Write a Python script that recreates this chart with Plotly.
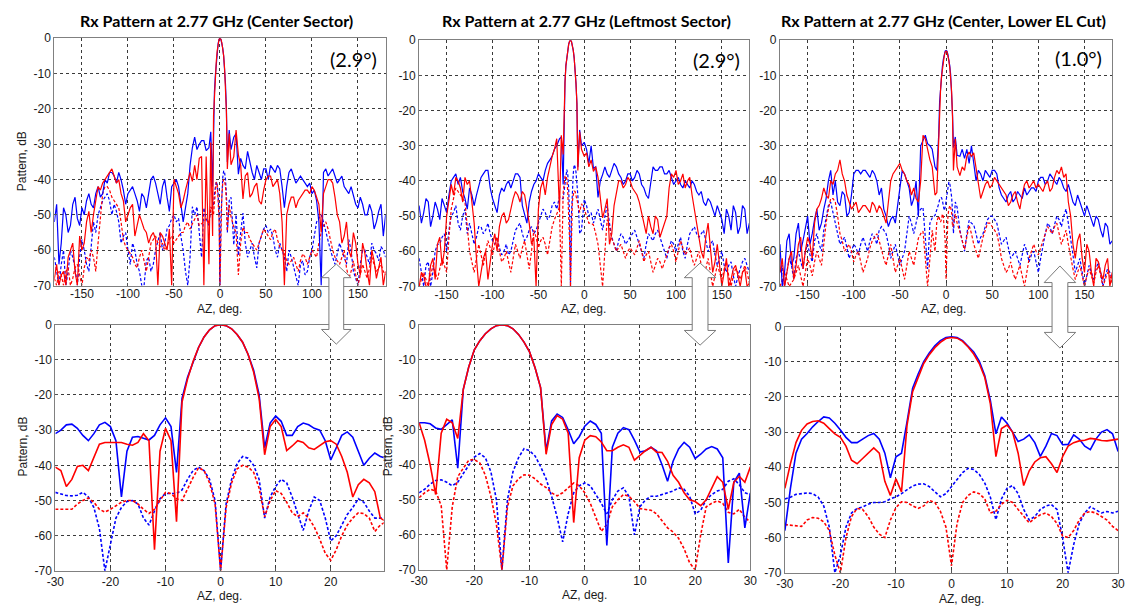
import plotly.graph_objects as go

W, H = 1132, 614

# ---------------- data ----------------
AZ_TOP = [-180, -175, -170, -165, -160, -155, -150, -145, -140, -135, -130, -125, -120, -115, -110, -105, -100, -95,
          -90, -85, -80, -75, -70, -65, -60, -55, -50, -45, -40, -35, -30, -25, -20, -15,
          -12, -10, -8, -7, -6, -5, -4, -3, -2, -1, 0, 1, 2, 3, 4, 5, 6, 7, 8, 10, 12,
          15, 20, 25, 30, 35, 40, 45, 50, 55, 60, 65, 70, 75, 80, 85, 90, 95, 100, 105, 110, 115, 120, 125, 130,
          135, 140, 145, 150, 155, 160, 165, 170, 175, 180]
AZ_MID = [-177.5, -172.5, -167.5, -162.5, -157.5, -152.5, -147.5, -142.5, -137.5, -132.5, -127.5, -122.5, -117.5,
          -112.5, -107.5, -102.5, -97.5, -92.5, -87.5, -82.5, -77.5, -72.5, -67.5, -62.5, -57.5, -52.5, -47.5, -42.5,
          -37.5, -32.5, -27.5, -22.5, -17.5,
          17.5, 22.5, 27.5, 32.5, 37.5, 42.5, 47.5, 52.5, 57.5, 62.5, 67.5, 72.5, 77.5, 82.5, 87.5, 92.5, 97.5, 102.5,
          107.5, 112.5, 117.5, 122.5, 127.5, 132.5, 137.5, 142.5, 147.5, 152.5, 157.5, 162.5, 167.5, 172.5, 177.5]

AZ_TOP_LEFT = [-180, -175, -170, -165, -160, -155, -150, -145, -140, -135, -130, -125, -120, -115, -110, -105, -100,
               -95, -90, -85, -80, -75, -70, -65, -60, -55, -50, -45, -40, -35, -30,
               -27, -25, -23, -22, -21, -20, -19, -18, -17, -16, -15, -14, -13, -12, -11, -10, -9, -8, -7, -5, -3,
               0, 5, 10, 15, 20, 25, 30, 35, 40, 45, 50, 55, 60, 65, 70, 75, 80, 85, 90, 95, 100, 105, 110, 115, 120,
               125, 130, 135, 140, 145, 150, 155, 160, 165, 170, 175, 180]
AZ_MID_LEFT = [-177.5, -172.5, -167.5, -162.5, -157.5, -152.5, -147.5, -142.5, -137.5, -132.5, -127.5, -122.5,
               -117.5, -112.5, -107.5, -102.5, -97.5, -92.5, -87.5, -82.5, -77.5, -72.5, -67.5, -62.5, -57.5, -52.5,
               -47.5, -42.5, -37.5, -32.5,
               2.5, 7.5, 12.5, 17.5, 22.5, 27.5, 32.5, 37.5, 42.5, 47.5, 52.5, 57.5, 62.5, 67.5, 72.5, 77.5, 82.5,
               87.5, 92.5, 97.5, 102.5, 107.5, 112.5, 117.5, 122.5, 127.5, 132.5, 137.5, 142.5, 147.5, 152.5, 157.5,
               162.5, 167.5, 172.5, 177.5]

AZ_ZOOM = [-30, -29, -28, -27, -26, -25, -24, -23, -22, -21, -20, -19, -18, -17, -16, -15, -14, -13, -12, -11, -10,
           -9, -8, -7, -6, -5, -4, -3, -2, -1, 0, 1, 2, 3, 4, 5, 6, 7, 8, 9, 10, 11, 12, 13, 14, 15, 16, 17, 18, 19,
           20, 21, 22, 23, 24, 25, 26, 27, 28, 29, 30]

# Panel 1 (Center Sector), full cut
C_SOLID_BLUE = [-52, -64, -48, -55, -47, -51, -48, -46, -47, -44, -45, -40, -38, -39, -38, -43, -44, -42, -46, -44,
                -48, -40, -41, -47, -40, -49, -41, -42, -52, -44, -31, -31.5, -29, -31.8,
                -31, -26.5, -42, -21, -15, -10.5, -6.5, -3.5, -1.5, -0.3, 0, -0.3, -1.2, -2.8, -5, -8.5, -13, -20,
                -35, -26, -31.5,
                -28, -38.5, -36, -32, -38, -36, -40, -37, -36, -38, -37, -48, -38, -39, -40, -40, -42, -44, -46, -70,
                -37, -38, -39, -40, -42, -44, -45, -48, -47, -50, -49, -52, -47, -50]
C_SOLID_BLUE_MID = [-47, -58, -50, -53, -45, -53, -50, -44, -48, -42, -44, -41, -38, -41, -40, -47, -43, -44, -49,
                    -45, -44, -39, -44, -42, -45, -42, -40, -47, -48, -36, -28, -30, -29,
                    -27, -34, -37, -35, -40, -38, -37, -40, -37, -36, -42, -42, -37, -41, -39, -41, -41, -43, -52,
                    -38, -39, -37, -41, -39, -43, -42, -47, -45, -50, -47, -54, -49, -56]
C_SOLID_RED = [-68, -70, -66, -62, -58, -70, -60, -52, -55, -46, -43, -40, -38, -39, -40, -46, -50, -47, -53, -52,
               -55, -56, -57, -55, -58, -54, -40, -44, -46, -40, -40.5, -40, -33.5, -33.5,
               -64, -29.5, -56, -22, -15.5, -10.5, -6.5, -3.5, -1.5, -0.3, 0, -0.3, -1.2, -2.8, -5, -8.5, -13.5, -21,
               -37, -27, -35.8,
               -33.5, -33, -45.5, -38, -44, -41, -47, -40, -39, -41, -44, -70, -47, -45, -46, -44, -43, -42, -45, -55,
               -42, -40, -45, -52, -56, -60, -55, -64, -58, -66, -60, -68, -62, -66]
C_SOLID_RED_MID = [-64, -67, -70, -60, -66, -56, -58, -49, -50, -42, -41, -39, -37, -41, -44, -52, -48, -56, -50,
                   -54, -58, -55, -70, -56, -60, -70, -42, -48, -43, -38, -36, -34, -70,
                   -26, -36, -39, -45, -42, -46, -43, -39, -42, -40, -52, -50, -45, -48, -45, -43, -44, -43, -47,
                   -44, -40, -41, -50, -58, -52, -62, -58, -67, -61, -70, -63, -65, -70]
C_DASH_BLUE = [-62, -70, -60, -66, -62, -70, -57, -64, -58, -55, -48, -45, -46, -47, -52, -56, -60, -58, -64, -70,
               -63, -66, -60, -55, -58, -53, -50, -51, -60, -70, -47.7, -47.7, -62, -51,
               -53, -48, -48, -47, -44, -41.5, -40.5, -41.5, -44, -50, -70, -51, -44, -39.5, -37.5, -38, -40, -44,
               -55, -46, -45,
               -58.5, -61.5, -49.5, -62, -58, -65, -56, -53, -54, -60, -58, -62, -60, -65, -70, -63, -66, -60, -52,
               -50, -55, -60, -64, -58, -62, -57, -66, -70, -60, -62, -58, -61, -59, -62]
C_DASH_BLUE_MID = [-66, -64, -70, -60, -65, -62, -60, -66, -52, -50, -46, -44, -50, -49, -58, -55, -64, -60, -66,
                   -70, -62, -64, -57, -60, -54, -51, -52, -56, -66, -62, -50, -55, -48,
                   -50, -55, -58, -60, -62, -58, -54, -55, -56, -62, -60, -66, -62, -68, -64, -67, -62, -56, -51,
                   -52, -58, -62, -61, -60, -64, -60, -68, -64, -60, -64, -60, -63, -60]
C_DASH_RED = [-68, -66, -70, -65, -68, -64, -70, -62, -60, -66, -50, -42, -43, -46, -48, -57, -60, -62, -65, -60,
              -66, -58, -56, -59, -60, -57, -58, -56, -55, -52, -52.5, -50, -52.5, -51,
              -52.5, -47.7, -49.5, -50, -46.5, -43.5, -40.7, -41.5, -45, -51, -70, -52, -45, -41, -40, -40.5, -42,
              -46.5, -54.6, -47.2, -50.5,
              -53.5, -67, -53.5, -55, -58, -60, -56, -55, -57, -54, -59, -61, -64, -62, -66, -61, -64, -60, -62, -55,
              -52, -57, -62, -64, -60, -68, -63, -70, -64, -68, -62, -66, -64, -67]
C_DASH_RED_MID = [-70, -67, -66, -70, -65, -67, -65, -63, -62, -58, -44, -42, -45, -47, -52, -59, -61, -64, -62,
                  -63, -62, -57, -58, -58, -59, -56, -57, -55, -53, -54, -51, -53, -52,
                  -55, -58, -55, -57, -59, -58, -54, -56, -55, -57, -60, -63, -63, -64, -63, -62, -62, -61, -58,
                  -53, -54, -60, -63, -62, -65, -66, -67, -67, -66, -65, -64, -65, -66]

# Panel 2 (Leftmost Sector), full cut
L_SOLID_BLUE = [-47, -49, -46, -50, -48, -45, -49, -40, -38, -39, -45, -42, -47, -41, -38, -37, -45, -49, -42, -41,
                -42, -38, -39, -50, -46, -41, -38, -40, -35, -33, -30,
                -28, -27.5, -41, -18.5, -12, -7.2, -4.6, -2.6, -1.2, -0.3, 0, -0.3, -1.2, -2.8, -5, -7.8, -12.3, -18,
                -36, -25.5, -30,
                -29, -35, -36.4, -44.7, -38.2, -38, -37, -36, -39, -40, -38, -39, -38, -42, -45, -36, -37, -36, -38,
                -39, -40, -41, -40, -42, -41, -44, -46, -45, -48, -47, -51, -48, -54, -49, -53, -48, -52]
L_SOLID_BLUE_MID = [-52, -45, -53, -46, -51, -47, -44, -39, -41, -43, -48, -44, -44, -39, -37, -42, -47, -44, -43,
                    -40, -40, -38, -47, -52, -43, -40, -39, -37, -34, -31,
                    -31, -30, -36, -40, -36, -39, -35, -38, -41, -38, -40, -37, -41, -44, -40, -37, -36, -38, -37,
                    -41, -39, -42, -41, -40, -43, -43, -47, -46, -50, -49, -55, -50, -47, -55, -47, -55]
L_SOLID_RED = [-70, -67, -70, -62, -58, -64, -50, -41, -39, -42, -39, -40, -52, -70, -62, -68, -58, -60, -50, -52,
               -48, -43, -46, -44, -52, -56, -48, -40, -39, -33, -28,
               -48.5, -27, -32.5, -18.5, -12, -7.2, -4.6, -2.6, -1.2, -0.3, 0, -0.3, -1.2, -2.8, -5, -7.8, -12.3, -18,
               -37, -26, -31,
               -33, -36, -37.3, -39, -50.5, -45, -55, -44, -40, -41, -40, -43, -46, -52, -50, -55, -51, -54, -50, -38,
               -37, -40, -42, -39, -48, -55, -62, -52, -66, -58, -70, -62, -68, -64, -70, -65, -69]
L_SOLID_RED_MID = [-66, -70, -64, -68, -56, -60, -46, -44, -40, -46, -41, -46, -62, -66, -60, -63, -55, -53, -49,
                   -51, -45, -44, -43, -48, -58, -70, -42, -44, -36, -31,
                   -32, -34, -36, -44, -48, -58, -47, -40, -42, -39, -42, -44, -49, -55, -53, -50, -56, -52, -42,
                   -39, -41, -38, -40, -44, -52, -60, -56, -60, -63, -64, -66, -70, -65, -67, -66, -70]
L_DASH_BLUE = [-62, -70, -63, -66, -58, -56, -60, -50, -47, -54, -48, -52, -58, -53, -55, -52, -57, -56, -61, -58,
               -60, -54, -52, -57, -54, -55, -52, -48, -51, -47, -48,
               -44.5, -45, -45, -42.5, -40, -37.8, -36.8, -38, -42, -50, -70, -50, -42, -38, -35.4, -36, -37.5, -40.5,
               -44, -55, -54,
               -45.2, -50, -52, -48, -54, -47, -56, -60, -55, -58, -56, -54, -58, -62, -55, -57, -54, -58, -62, -57,
               -60, -56, -62, -55, -53, -56, -54, -60, -57, -64, -60, -66, -63, -70, -65, -62, -66]
L_DASH_BLUE_MID = [-66, -64, -70, -60, -58, -55, -54, -49, -52, -50, -55, -55, -56, -53, -54, -55, -58, -59, -60,
                   -61, -57, -53, -55, -56, -53, -54, -50, -49, -50, -46,
                   -47, -49, -50, -51, -50, -52, -58, -57, -56, -57, -55, -56, -60, -58, -56, -55, -56, -60, -59,
                   -58, -58, -60, -58, -54, -55, -55, -57, -58, -61, -62, -64, -64, -67, -67, -63, -64]
L_DASH_RED = [-70, -66, -70, -64, -68, -62, -66, -48, -42, -44, -46, -60, -66, -58, -64, -57, -61, -56, -63, -60,
              -66, -58, -62, -57, -65, -54, -59, -56, -61, -53, -49.4,
              -47.5, -70, -43.4, -41, -38.7, -38.5, -39.5, -43, -49, -57, -70, -52, -46, -44, -42.9, -43, -44, -45.5,
              -46.5, -48.9, -46.5,
              -48, -52, -52.5, -58, -70, -51, -56.4, -60, -58, -62, -59, -61, -57, -63, -60, -66, -62, -65, -61, -58,
              -63, -57, -61, -59, -64, -60, -68, -62, -70, -64, -68, -63, -70, -65, -68, -64, -69]
L_DASH_RED_MID = [-68, -68, -67, -66, -65, -64, -56, -45, -43, -45, -53, -63, -62, -61, -60, -59, -58, -60, -62,
                  -63, -62, -60, -59, -61, -60, -56, -57, -58, -57, -51,
                  -50, -52, -55, -64, -60, -53, -58, -59, -60, -60, -60, -59, -60, -61, -63, -64, -63, -63, -59,
                  -60, -60, -59, -60, -62, -62, -64, -65, -66, -67, -66, -65, -67, -67, -66, -66, -66]

# Panel 3 (Center, Lower EL Cut), full cut
E_SOLID_BLUE = [-58, -66, -55, -62, -52, -57, -50, -55, -48, -52, -45, -37, -40, -47, -44, -49, -38, -37, -37, -38,
                -37, -40, -42, -50, -51, -52, -41, -38, -42, -45, -50, -28.5, -29.4, -31,
                -36, -37, -27, -17.5, -13.5, -10, -7.5, -5.5, -4, -3.1, -2.9, -3.1, -4, -5.5, -7.2, -9.8, -14, -21,
                -30.5, -27.5, -32.7,
                -33, -33.6, -35, -35.5, -37, -40, -38, -37, -38, -44, -46, -43, -45, -44, -42, -43, -42, -40, -39, -40,
                -39, -41, -40, -43, -44, -47, -46, -50, -49, -53, -51, -56, -53, -57]
E_SOLID_BLUE_MID = [-70, -57, -64, -55, -60, -53, -58, -51, -54, -48, -40, -44, -46, -43, -50, -44, -37, -38, -37,
                    -39, -38, -44, -48, -53, -50, -47, -37, -40, -47, -40, -30, -27, -30,
                    -31, -31, -30, -40, -38, -37, -39, -37, -42, -45, -44, -46, -43, -45, -44, -42, -43, -39, -41,
                    -38, -40, -39, -42, -41, -46, -44, -48, -47, -51, -50, -54, -52, -58]
E_SOLID_RED = [-66, -70, -62, -68, -58, -65, -56, -62, -48, -45, -44, -40, -38, -34, -40, -46, -47, -49, -47, -48,
               -46, -49, -48, -52, -40, -37, -35, -38, -41, -42, -46, -27, -31.5, -36,
               -44, -43.3, -28, -18.5, -14.3, -10.5, -8, -6, -4.5, -3.4, -3.1, -3.3, -4.2, -5.8, -7.8, -10.5, -14.5,
               -22, -37, -28, -36,
               -38.5, -37, -31.8, -32, -40, -43, -40, -41, -40, -42, -44, -46, -43, -48, -41, -42, -40, -41, -43, -40,
               -42, -37, -36, -38, -50, -62, -55, -66, -60, -70, -63, -68, -62, -66]
E_SOLID_RED_MID = [-62, -66, -60, -64, -56, -60, -58, -52, -47, -42, -45, -41, -37, -38, -44, -48, -46, -48, -47,
                   -49, -47, -47, -50, -46, -38, -36, -37, -40, -44, -45, -40, -28, -34,
                   -36, -33, -33, -36, -45, -41, -42, -39, -41, -43, -47, -44, -46, -44, -40, -41, -42, -42, -41,
                   -43, -39, -38, -39, -46, -58, -57, -62, -58, -66, -62, -66, -64, -70]
E_DASH_BLUE = [-66, -70, -62, -68, -60, -65, -58, -63, -55, -60, -50, -46, -52, -58, -56, -62, -58, -61, -56, -60,
               -55, -58, -53, -55, -62, -58, -64, -60, -50, -55, -49, -47.5, -65, -50.5,
               -49.8, -48.4, -46.5, -45.3, -44.8, -44.7, -45.5, -47, -48.4, -47.5, -45.5, -43.5, -41.5, -40.3, -40.6,
               -42, -44.5, -48.5, -54.9, -46, -47.5,
               -54, -60, -51.2, -52.5, -58, -55, -51, -50, -52, -58, -56, -62, -60, -64, -58, -63, -60, -66, -58, -52,
               -55, -50, -53, -48, -56, -66, -62, -70, -64, -68, -63, -70, -65, -68]
E_DASH_BLUE_MID = [-64, -66, -64, -62, -63, -60, -61, -57, -58, -54, -47, -49, -55, -57, -59, -60, -59, -58, -58,
                   -57, -56, -54, -54, -58, -60, -61, -62, -55, -52, -52, -48, -56, -52,
                   -57, -55, -52, -55, -56, -53, -50, -51, -55, -57, -59, -61, -62, -61, -60, -61, -63, -62, -55,
                   -53, -52, -51, -50, -52, -61, -64, -66, -67, -66, -65, -66, -67, -66]
E_DASH_RED = [-70, -66, -70, -68, -64, -70, -62, -67, -60, -64, -52, -45, -46, -55, -60, -58, -63, -60, -66, -62,
              -57, -55, -60, -64, -58, -66, -62, -68, -60, -64, -56.3, -54.3, -70, -54,
              -60, -51.5, -50, -51, -51.7, -51, -49.4, -50, -52.5, -57, -68, -56, -50, -48, -47, -47.5, -49, -53,
              -52.5, -49.4, -52,
              -54.5, -59.5, -52.6, -58, -62, -56, -52, -53, -55, -62, -66, -63, -68, -64, -70, -62, -58, -61, -57,
              -53, -55, -52, -58, -54, -62, -68, -64, -70, -65, -69, -64, -70, -66, -69]
E_DASH_RED_MID = [-68, -68, -69, -66, -67, -66, -64, -63, -62, -58, -48, -45, -50, -57, -59, -60, -61, -63, -64,
                  -59, -56, -57, -62, -61, -62, -64, -65, -64, -62, -60, -55, -62, -62,
                  -57, -56, -55, -60, -59, -54, -52, -54, -58, -64, -65, -66, -66, -67, -66, -60, -60, -59, -55,
                  -54, -53, -55, -56, -58, -65, -66, -67, -67, -67, -66, -67, -68, -67]

# Zoomed cuts (-30..30 deg)
CZ_SOLID_BLUE = [-31, -30, -28.5, -28.3, -29.5, -31.5, -33, -31, -28.5, -27.8, -29, -33, -49, -36, -32, -31.8, -32.3,
                 -32.8, -31.5, -28.5, -26.5, -29, -42, -21, -15, -10.5, -6.5, -3.5, -1.5, -0.3, 0, -0.3, -1.2, -2.8,
                 -5, -8.5, -13, -20, -35, -28, -26, -27.5, -31.5, -31.5, -29, -28, -28.5, -29.5, -30, -33, -38.5,
                 -35, -31.5, -30.5, -32, -36, -40, -38, -36.5, -37.5, -38]
CZ_SOLID_RED = [-40.5, -41.5, -46, -44, -40.3, -40, -41.5, -38, -34, -33.5, -33.5, -33.5, -33.5, -34, -34.3, -33.5,
                -31, -33, -64, -36, -29.5, -33, -56, -22, -15.5, -10.5, -6.5, -3.5, -1.5, -0.3, 0, -0.3, -1.2, -2.8,
                -5, -8.5, -13.5, -21, -37, -29, -27, -29, -35.8, -34.5, -33, -33.5, -35, -35.5, -34.5, -33.3, -33,
                -34, -37.5, -42, -49, -45.5, -44, -45, -47.5, -55, -56]
CZ_DASH_BLUE = [-47.7, -48.2, -48.6, -48.7, -48.5, -47.7, -49, -52, -58, -70, -62, -55, -52, -50.3, -50, -51, -55,
                -57, -53, -49.5, -48, -48, -48, -47, -44, -41.5, -40.5, -41.5, -44, -50, -70, -51, -44, -39.5, -37.5,
                -38, -40, -44, -55, -49, -46, -44, -45, -49, -54, -58.5, -53, -49, -50, -55, -61.5, -60, -57, -54,
                -52, -49.5, -50.5, -53, -55, -55, -55]
CZ_DASH_RED = [-52.5, -52.5, -52.6, -52.5, -51, -50, -49.3, -50.5, -52.5, -53.3, -52.5, -51.5, -50.5, -50, -50, -51,
               -52.5, -53.7, -52.5, -50, -47.7, -48, -49.5, -50, -46.5, -43.5, -40.7, -41.5, -45, -51, -70, -52, -45,
               -41, -40, -40.5, -42, -46.5, -54.6, -50, -47.2, -48, -50.5, -53.5, -54.6, -53.5, -55, -57.5, -61, -65,
               -67, -64, -60, -57, -55, -53.5, -53.7, -55, -58.8, -57, -56]

LZ_SOLID_BLUE = [-28, -28, -28.3, -29.5, -29.9, -28.5, -27.2, -41, -18.5, -12, -7.2, -4.6, -2.6, -1.2, -0.3, 0, -0.3,
                 -1.2, -2.8, -5, -7.8, -12.3, -18, -36, -27.5, -25.5, -26.5, -30, -34, -32, -29, -27.5, -28.5, -31,
                 -63, -35, -31, -29.4, -30, -33, -36.4, -36, -35, -36, -40, -44.7, -39, -35.5, -33.6, -35, -38.2, -37,
                 -35.5, -34.8, -35.5, -38, -68, -45, -42.4, -58, -48]
LZ_SOLID_RED = [-28, -33, -40, -48.5, -31, -27, -28, -32.5, -18.5, -12, -7.2, -4.6, -2.6, -1.2, -0.3, 0, -0.3, -1.2,
                -2.8, -5, -7.8, -12.3, -18, -37, -28.5, -26, -27, -31, -56.5, -38, -33, -31.7, -32, -33.5, -36, -36,
                -35, -34.3, -35, -38.7, -37.3, -36, -35, -36.4, -36.5, -39, -43, -45, -48, -50, -50.5, -51.7, -50,
                -46.5, -43.4, -45, -52.7, -45, -43.3, -45, -40.6]
LZ_DASH_BLUE = [-48, -47, -45.5, -44.5, -44.3, -45, -46, -45, -42.5, -40, -37.8, -36.8, -38, -42, -50, -70, -50, -42,
                -38, -35.4, -36, -37.5, -40.5, -44, -49, -55, -62, -54, -48, -46, -45.2, -46, -48.5, -51, -54, -50,
                -47.5, -46.6, -49, -60, -52, -50, -49, -49, -48.5, -48, -47.5, -46.6, -47, -49, -54, -53, -50, -48.5,
                -47.5, -47, -44.7, -44, -45.7, -48, -48.5]
LZ_DASH_RED = [-49.4, -48, -47, -47.5, -51.7, -70, -52, -43.4, -41, -38.7, -38.5, -39.5, -43, -49, -57, -70, -52, -46,
               -44, -42.9, -43, -44, -45.5, -46.5, -48, -48.9, -48, -46.5, -45.2, -46, -48, -51, -55, -59, -57, -52,
               -50, -48.5, -49, -50.5, -52.5, -52.7, -53, -54, -56, -58, -59.2, -61, -64, -68, -70, -60, -52, -51,
               -50.3, -51, -53.6, -54, -52.7, -55, -56.4]

EZ_SOLID_BLUE = [-58, -46, -36, -32, -30.4, -28.5, -27, -25.7, -26, -27.5, -29.4, -31.5, -33, -33, -32, -31, -30.4,
                 -32, -36, -43, -37, -36, -27, -17.5, -13.5, -10, -7.5, -5.5, -4, -3.1, -2.9, -3.1, -4, -5.5, -7.2,
                 -9.8, -14, -21, -30.5, -25.7, -27.5, -30, -32.7, -32, -30.8, -33, -36.9, -34, -30.4, -31, -33.6,
                 -33.5, -30.8, -32, -34, -35, -32, -30, -29.3, -30.5, -35.5]
EZ_SOLID_RED = [-46, -39, -33, -29.5, -27.7, -27, -26.8, -27.5, -29, -30.5, -31.5, -34, -38, -39, -37.5, -36, -34.5,
                -36, -44, -48, -43.3, -47, -28, -18.5, -14.3, -10.5, -8, -6, -4.5, -3.4, -3.1, -3.3, -4.2, -5.8, -7.8,
                -10.5, -14.5, -22, -37, -29, -28, -30, -36, -45.2, -41, -38.5, -37.3, -37, -39, -41.5, -37, -34, -33,
                -32.5, -32.3, -31.8, -32, -32.4, -32.5, -32.3, -32]
EZ_DASH_BLUE = [-49, -48.5, -47.7, -47.5, -47.3, -47.5, -48.5, -51, -57, -70, -65, -57, -53, -51.7, -51.3, -50.5, -50,
                -50, -49.8, -49, -48.4, -47.5, -46.5, -45.3, -44.8, -44.7, -45.5, -47, -48.4, -47.5, -45.5, -43.5,
                -41.5, -40.3, -40.6, -42, -44.5, -48.5, -54.9, -49, -46, -45.2, -47.5, -52, -55, -54, -52, -51,
                -50.6, -52, -60, -70, -62, -56, -53, -51.2, -52, -53, -52.6, -53, -52.5]
EZ_DASH_RED = [-56.3, -56.5, -56.6, -56.8, -55, -54.3, -54.5, -55.5, -58, -65, -70, -60, -54, -51.7, -52, -54, -57,
               -59, -60, -55, -51.5, -49.8, -50, -51, -51.7, -51, -49.4, -50, -52.5, -57, -68, -56, -50, -48, -47,
               -47.5, -49, -53, -52.5, -50.5, -49.4, -50, -52, -54, -55.8, -54.5, -53.5, -53, -54, -56, -59.5, -60,
               -58, -55, -53, -52.6, -53, -54, -55, -56.8, -58]

TITLES = ["Rx Pattern at 2.77 GHz (Center Sector)",
          "Rx Pattern at 2.77 GHz (Leftmost Sector)",
          "Rx Pattern at 2.77 GHz (Center, Lower EL Cut)"]
BEAMWIDTHS = ["(2.9°)", "(2.9°)", "(1.0°)"]
Y_TICKS = [0, -10, -20, -30, -40, -50, -60, -70]
X_TICKS_TOP = [-150, -100, -50, 0, 50, 100, 150]
X_TICKS_ZOOM = [-30, -20, -10, 0, 10, 20, 30]


# ---------------- helpers ----------------
def fx(p):
    return p / W


def fy(p):
    return 1 - p / H


def merged(xa, ya, xb=None, yb=None):
    if len(xa) != len(ya):
        raise ValueError(f"length mismatch {len(xa)} vs {len(ya)}")
    pts = list(zip(xa, ya))
    if xb is not None:
        if len(xb) != len(yb):
            raise ValueError(f"mid length mismatch {len(xb)} vs {len(yb)}")
        pts += list(zip(xb, yb))
    pts.sort(key=lambda p: p[0])
    return [p[0] for p in pts], [p[1] for p in pts]


BLUE = "rgb(0,0,255)"
RED = "rgb(255,0,0)"
DASH = "3px,2px"

panels = [
    (46, 382, 32, 285, [-180, 180], X_TICKS_TOP,
     [(AZ_TOP, C_DASH_BLUE, AZ_MID, C_DASH_BLUE_MID), (AZ_TOP, C_DASH_RED, AZ_MID, C_DASH_RED_MID),
      (AZ_TOP, C_SOLID_BLUE, AZ_MID, C_SOLID_BLUE_MID), (AZ_TOP, C_SOLID_RED, AZ_MID, C_SOLID_RED_MID)]),
    (416, 751, 34, 286, [-180, 180], X_TICKS_TOP,
     [(AZ_TOP_LEFT, L_DASH_BLUE, AZ_MID_LEFT, L_DASH_BLUE_MID), (AZ_TOP_LEFT, L_DASH_RED, AZ_MID_LEFT, L_DASH_RED_MID),
      (AZ_TOP_LEFT, L_SOLID_BLUE, AZ_MID_LEFT, L_SOLID_BLUE_MID),
      (AZ_TOP_LEFT, L_SOLID_RED, AZ_MID_LEFT, L_SOLID_RED_MID)]),
    (782, 1119, 34, 286, [-180, 180], X_TICKS_TOP,
     [(AZ_TOP, E_DASH_BLUE, AZ_MID, E_DASH_BLUE_MID), (AZ_TOP, E_DASH_RED, AZ_MID, E_DASH_RED_MID),
      (AZ_TOP, E_SOLID_BLUE, AZ_MID, E_SOLID_BLUE_MID), (AZ_TOP, E_SOLID_RED, AZ_MID, E_SOLID_RED_MID)]),
    (47, 380, 325, 577, [-30, 29.6], X_TICKS_ZOOM,
     [(AZ_ZOOM, CZ_DASH_BLUE, None, None), (AZ_ZOOM, CZ_DASH_RED, None, None),
      (AZ_ZOOM, CZ_SOLID_BLUE, None, None), (AZ_ZOOM, CZ_SOLID_RED, None, None)]),
    (416, 752, 325, 576, [-30, 30], X_TICKS_ZOOM,
     [(AZ_ZOOM, LZ_DASH_BLUE, None, None), (AZ_ZOOM, LZ_DASH_RED, None, None),
      (AZ_ZOOM, LZ_SOLID_BLUE, None, None), (AZ_ZOOM, LZ_SOLID_RED, None, None)]),
    (787, 1125, 327, 579, [-30, 30], X_TICKS_ZOOM,
     [(AZ_ZOOM, EZ_DASH_BLUE, None, None), (AZ_ZOOM, EZ_DASH_RED, None, None),
      (AZ_ZOOM, EZ_SOLID_BLUE, None, None), (AZ_ZOOM, EZ_SOLID_RED, None, None)]),
]

fig = go.Figure()
layout = {}
TICKFONT = dict(family="Liberation Sans, Arial, sans-serif", size=12, color="#1a1a1a")
styles = [(BLUE, DASH), (RED, DASH), (BLUE, "solid"), (RED, "solid")]

for i, (x0, x1, y0, y1, xr, xt, series) in enumerate(panels):
    n = "" if i == 0 else str(i + 1)
    xa, ya = "x" + n, "y" + n
    width = 1.2 if i < 3 else 1.6
    for (xs, ys, xm, ym), (col, dash) in zip(series, styles):
        px_, py_ = merged(xs, ys, xm, ym)
        fig.add_trace(go.Scatter(x=px_, y=py_, mode="lines", xaxis=xa, yaxis=ya,
                                 line=dict(color=col, width=width, dash=dash),
                                 showlegend=False, hoverinfo="skip"))
    common = dict(showgrid=True, gridcolor="#3a3a3a", griddash="dot", gridwidth=1,
                  showline=True, linecolor="#808080", linewidth=1, mirror=True,
                  zeroline=False, ticks="inside", ticklen=3, tickcolor="#555",
                  tickfont=TICKFONT)
    layout["xaxis" + n] = dict(common, domain=[fx(x0), fx(x1)], range=xr, anchor=ya,
                               tickvals=xt, ticktext=[str(v) for v in xt],
                               ticklabelstandoff=(-3 if i < 3 else 0))
    layout["yaxis" + n] = dict(common, domain=[fy(y1), fy(y0)], range=[-70, 0], anchor=xa,
                               tickvals=Y_TICKS, ticktext=[str(v) for v in Y_TICKS])

annotations = []
title_pos = [(210, 14), (586, 14), (948, 14)]
for t, (cx, cy) in zip(TITLES, title_pos):
    annotations.append(dict(text="<b>" + t + "</b>", x=fx(cx), y=fy(cy), xref="paper", yref="paper",
                            showarrow=False, xanchor="center", yanchor="middle",
                            font=dict(family="Lato, Open Sans, sans-serif", size=16, color="black")))
bw_pos = [(349, 53), (718, 54), (1085, 52)]
for t, (cx, cy) in zip(BEAMWIDTHS, bw_pos):
    annotations.append(dict(text=t, x=fx(cx), y=fy(cy), xref="paper", yref="paper",
                            showarrow=False, xanchor="center", yanchor="middle",
                            font=dict(family="Lato, Open Sans, sans-serif", size=20, color="black")))
for cx, cy in [(214, 309), (583, 309), (948, 309), (214, 603), (584, 602), (966, 606)]:
    annotations.append(dict(text="AZ, deg.", x=fx(cx), y=fy(cy), xref="paper", yref="paper",
                            showarrow=False, xanchor="center", yanchor="middle", font=TICKFONT))
for cx, cy in [(14, 158), (14, 450), (384, 450)]:
    annotations.append(dict(text="Pattern, dB", x=fx(cx), y=fy(cy), xref="paper", yref="paper",
                            showarrow=False, xanchor="center", yanchor="middle", textangle=-90,
                            font=TICKFONT))

# hollow double-headed arrows linking the full cut to the zoomed cut
shapes = []
arrows = [
    (332, 263, 15, 7.5, 277, 330, 345),
    (701, 262, 16, 8, 277, 331, 346),
    (1066, 265, 16, 8, 282, 333, 349),
]
for cx, ty, hw, sw, yb1, yb2, td in arrows:
    pts = [(cx, ty), (cx + hw, yb1), (cx + sw, yb1), (cx + sw, yb2), (cx + hw, yb2), (cx, td),
           (cx - hw, yb2), (cx - sw, yb2), (cx - sw, yb1), (cx - hw, yb1)]
    path = "M " + " L ".join(f"{fx(a):.5f},{fy(b):.5f}" for a, b in pts) + " Z"
    shapes.append(dict(type="path", path=path, xref="paper", yref="paper",
                       fillcolor="white", line=dict(color="#7a7a7a", width=1), layer="above"))

fig.update_layout(**layout)
fig.update_layout(width=W, height=H, margin=dict(l=0, r=0, t=0, b=0),
                  paper_bgcolor="white", plot_bgcolor="white",
                  annotations=annotations, shapes=shapes, showlegend=False)

fig.write_html("out.html")
